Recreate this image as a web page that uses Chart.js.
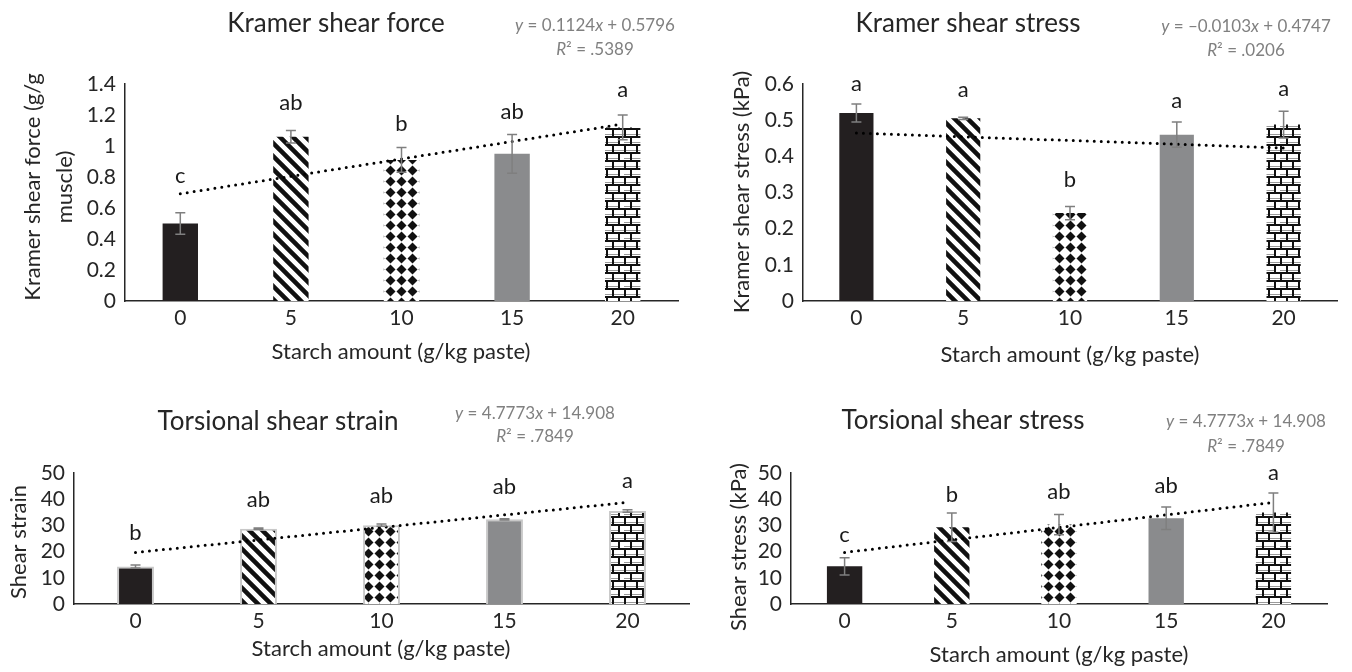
<!DOCTYPE html>
<html>
<head>
<meta charset="utf-8">
<script src="https://cdn.jsdelivr.net/npm/chart.js@4.4.0/dist/chart.umd.min.js"></script>
<style>
body { margin: 0; background: #fff; width: 1352px; height: 672px; overflow: hidden; position: relative; }
canvas { position: absolute; }
</style>
</head>
<body>
<canvas id="force" style="left:0;top:0" width="700" height="372"></canvas>
<canvas id="stress" style="left:680px;top:0" width="672" height="372"></canvas>
<canvas id="strain" style="left:0;top:372px" width="700" height="300"></canvas>
<canvas id="torsion" style="left:680px;top:372px" width="672" height="300"></canvas>
<script>
const starch = ['0', '5', '10', '15', '20'];

// Kramer shear force
const forceMean = [0.50, 1.06, 0.91, 0.95, 1.12];
const forceErr = [0.07, 0.04, 0.08, 0.125, 0.08];
const forceLetters = ['c', 'ab', 'b', 'ab', 'a'];
const forceLetterAt = [0.81, 1.28, 1.14, 1.22, 1.36];
const forceTrend = [0.1124, 0.5796];

// Kramer shear stress
const stressMean = [0.52, 0.505, 0.243, 0.46, 0.488];
const stressErr = [0.025, 0.003, 0.018, 0.035, 0.037];
const stressLetters = ['a', 'a', 'b', 'a', 'a'];
const stressLetterAt = [0.60, 0.583, 0.334, 0.554, 0.586];
const stressTrend = [-0.0103, 0.4747];

// Torsional shear strain
const strainMean = [14.3, 28.7, 30.1, 32.3, 35.5];
const strainErr = [0.6, 0.3, 0.4, 0.2, 0.5];
const strainLetters = ['b', 'ab', 'ab', 'ab', 'a'];
const strainLetterAt = [27, 39.7, 41.3, 44.7, 46.9];
const strainTrend = [4.7773, 14.908];

// Torsional shear stress
const torsionMean = [14.4, 29.3, 30.3, 32.7, 34.9];
const torsionErr = [3.3, 5.4, 3.9, 4.3, 7.5];
const torsionLetters = ['c', 'b', 'ab', 'ab', 'a'];
const torsionLetterAt = [26.4, 41.5, 42.7, 45, 50.2];
const torsionTrend = [4.7773, 14.908];

const FONT = 'Lato';
const INK = '#262626';

function tile(w, h, draw) {
	const c = document.createElement('canvas');
	c.width = w;
	c.height = h;
	const g = c.getContext('2d');
	g.fillStyle = '#fff';
	g.fillRect(0, 0, w, h);
	draw(g);
	return g.createPattern(c, 'repeat');
}

const stripes = tile(13, 13, g => {
	g.strokeStyle = '#111';
	g.lineWidth = 4.5;
	g.beginPath();
	for (const o of [-13, 0, 13]) {
		g.moveTo(o - 2, -2);
		g.lineTo(o + 15, 15);
	}
	g.stroke();
});

const diamonds = tile(11, 11, g => {
	g.fillStyle = '#111';
	g.beginPath();
	g.moveTo(5.5, 0.5);
	g.lineTo(10.5, 5.5);
	g.lineTo(5.5, 10.5);
	g.lineTo(0.5, 5.5);
	g.closePath();
	g.fill();
});

const bricks = tile(24, 16, g => {
	g.fillStyle = '#111';
	g.fillRect(0, 0, 24, 2);
	g.fillRect(0, 8, 24, 2);
	g.fillRect(0, 0, 2, 8);
	g.fillRect(12, 0, 2, 8);
	g.fillRect(6, 8, 2, 8);
	g.fillRect(18, 8, 2, 8);
	g.fillStyle = '#9a9a9a';
	g.fillRect(2, 6, 10, 1);
	g.fillRect(14, 6, 10, 1);
	g.fillRect(0, 14, 6, 1);
	g.fillRect(8, 14, 10, 1);
});

const fills = ['#231f20', stripes, diamonds, '#8a8b8d', bricks];

function drawRuns(ctx, runs, cx, cy, size) {
	let total = 0;
	runs.forEach(r => {
		ctx.font = (r[1] ? 'italic ' : '') + size + 'px ' + FONT;
		total += ctx.measureText(r[0]).width;
	});
	let x = cx - total / 2;
	ctx.textAlign = 'left';
	runs.forEach(r => {
		ctx.font = (r[1] ? 'italic ' : '') + size + 'px ' + FONT;
		ctx.fillText(r[0], x, cy);
		x += ctx.measureText(r[0]).width;
	});
}

function makePanel(id, p) {
	const a = p.area;
	const trend = starch.map((s, i) => p.trend[0] * (i + 1) + p.trend[1]);

	const decor = {
		id: 'decor',
		afterDatasetsDraw(chart) {
			const ctx = chart.ctx;
			const y = chart.scales.y;
			const bars = chart.getDatasetMeta(0).data;
			ctx.save();
			ctx.strokeStyle = '#7f7f7f';
			ctx.lineWidth = 1.5;
			p.err.forEach((e, i) => {
				if (!e) return;
				const cx = bars[i].x;
				const t = y.getPixelForValue(p.mean[i] + e);
				const b = y.getPixelForValue(p.mean[i] - e);
				ctx.beginPath();
				ctx.moveTo(cx, t); ctx.lineTo(cx, b);
				ctx.moveTo(cx - 5, t); ctx.lineTo(cx + 5, t);
				ctx.moveTo(cx - 5, b); ctx.lineTo(cx + 5, b);
				ctx.stroke();
			});
			ctx.fillStyle = '#1a1a1a';
			ctx.font = '22px ' + FONT;
			ctx.textAlign = 'center';
			ctx.textBaseline = 'middle';
			p.letters.forEach((l, i) => ctx.fillText(l, bars[i].x, y.getPixelForValue(p.letterAt[i])));
			ctx.restore();
		},
		afterDraw(chart) {
			const ctx = chart.ctx;
			ctx.save();
			ctx.textBaseline = 'middle';
			ctx.textAlign = 'center';
			ctx.fillStyle = INK;
			ctx.font = '26px ' + FONT;
			ctx.fillText(p.title[0], p.title[1], p.title[2]);

			ctx.font = '22px ' + FONT;
			ctx.fillText('Starch amount (g/kg paste)', p.xTitle[0], p.xTitle[1]);

			p.yTitle[0].forEach((line, i) => {
				ctx.save();
				ctx.translate(p.yTitle[1][i], p.yTitle[2]);
				ctx.rotate(-Math.PI / 2);
				ctx.textAlign = 'center';
				ctx.fillText(line, 0, 0);
				ctx.restore();
			});

			ctx.fillStyle = '#808080';
			drawRuns(ctx, p.eq[0], p.eq[2], p.eq[3], 17);
			drawRuns(ctx, p.eq[1], p.eq[2], p.eq[4], 17);
			ctx.restore();
		}
	};

	const tickFont = { family: FONT, size: 21 };

	return new Chart(document.getElementById(id), {
		data: {
			labels: starch,
			datasets: [{
				type: 'bar',
				data: p.mean,
				backgroundColor: fills,
				borderColor: '#c8c8c8',
				borderWidth: p.border,
				borderSkipped: 'bottom',
				barPercentage: p.barPct,
				categoryPercentage: 1,
				order: 1
			}, {
				type: 'line',
				data: trend,
				borderColor: '#000',
				borderWidth: 3,
				borderDash: [0, 7],
				borderCapStyle: 'round',
				pointRadius: 0,
				fill: false,
				order: 0
			}]
		},
		options: {
			responsive: false,
			animation: false,
			layout: { padding: { left: 0, top: a.top, right: p.w - a.right, bottom: 0 } },
			plugins: { legend: { display: false }, tooltip: { enabled: false } },
			scales: {
				x: {
					grid: { display: false, drawTicks: false },
					border: { color: INK, width: 1.5 },
					ticks: { color: INK, font: tickFont, padding: 5, autoSkip: false, maxRotation: 0 },
					afterFit: s => { s.height = p.h - a.bottom; }
				},
				y: {
					min: 0,
					max: p.yMax,
					grid: { display: false, drawTicks: false },
					border: { color: INK, width: 1.5 },
					ticks: {
						color: INK,
						font: tickFont,
						padding: 9,
						autoSkip: false,
						stepSize: p.yStep,
						callback: v => String(parseFloat(v.toFixed(2)))
					},
					afterFit: s => { s.width = a.left; }
				}
			}
		},
		plugins: [decor]
	});
}

makePanel('force', {
	mean: forceMean, err: forceErr, letters: forceLetters, letterAt: forceLetterAt, trend: forceTrend,
	yMax: 1.4, yStep: 0.2, border: 0, barPct: 0.32,
	w: 700, h: 372, area: { left: 125, right: 678, top: 84, bottom: 301 },
	title: ['Kramer shear force', 336, 24],
	eq: [[['y', 1], [' = 0.1124', 0], ['x', 1], [' + 0.5796', 0]], [['R', 1], ['\u00b2 = .5389', 0]], 595, 26, 50],
	yTitle: [['Kramer shear force (g/g', 'muscle)'], [33, 65], 187],
	xTitle: [401, 352]
});

makePanel('stress', {
	mean: stressMean, err: stressErr, letters: stressLetters, letterAt: stressLetterAt, trend: stressTrend,
	yMax: 0.6, yStep: 0.1, border: 0, barPct: 0.32,
	w: 672, h: 372, area: { left: 123, right: 657, top: 84, bottom: 301 },
	title: ['Kramer shear stress', 288, 24],
	eq: [[['y', 1], [' = \u20130.0103', 0], ['x', 1], [' + 0.4747', 0]], [['R', 1], ['\u00b2 = .0206', 0]], 566, 27, 51],
	yTitle: [['Kramer shear stress (kPa)'], [62], 192],
	xTitle: [390, 355]
});

makePanel('strain', {
	mean: strainMean, err: strainErr, letters: strainLetters, letterAt: strainLetterAt, trend: strainTrend,
	yMax: 50, yStep: 10, border: 2, barPct: 0.3,
	w: 700, h: 300, area: { left: 74, right: 689, top: 101, bottom: 232 },
	title: ['Torsional shear strain', 278, 50],
	eq: [[['y', 1], [' = 4.7773', 0], ['x', 1], [' + 14.908', 0]], [['R', 1], ['\u00b2 = .7849', 0]], 535, 42, 65],
	yTitle: [['Shear strain'], [19], 170],
	xTitle: [381, 277]
});

makePanel('torsion', {
	mean: torsionMean, err: torsionErr, letters: torsionLetters, letterAt: torsionLetterAt, trend: torsionTrend,
	yMax: 50, yStep: 10, border: 0, barPct: 0.33,
	w: 672, h: 300, area: { left: 111, right: 647, top: 101, bottom: 232 },
	title: ['Torsional shear stress', 283, 49],
	eq: [[['y', 1], [' = 4.7773', 0], ['x', 1], [' + 14.908', 0]], [['R', 1], ['\u00b2 = .7849', 0]], 566, 50, 75],
	yTitle: [['Shear stress (kPa)'], [59], 175],
	xTitle: [379, 283]
});
</script>
</body>
</html>
